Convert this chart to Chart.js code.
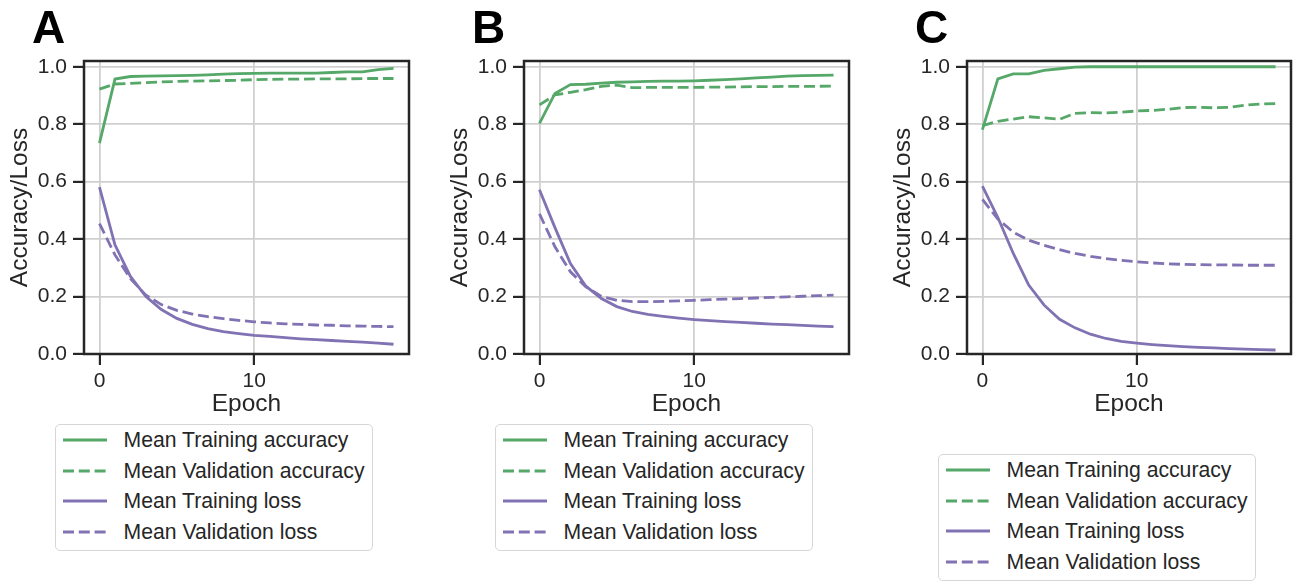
<!DOCTYPE html>
<html>
<head>
<meta charset="utf-8">
<script src="https://cdn.jsdelivr.net/npm/chart.js@4.4.1/dist/chart.umd.min.js"></script>
<style>
  body { margin: 0; background: #fff; width: 1294px; height: 583px; position: relative; overflow: hidden;
         font-family: "Liberation Sans", Arial, sans-serif; color: #262626; }
  canvas { position: absolute; top: 0; }
  .letter { position: absolute; top: 4px; font-weight: bold; font-size: 46px; line-height: 1; color: #000; }
  .legend { position: absolute; width: 318px; height: 127px; box-sizing: border-box;
            border: 1.5px solid #d6d6d6; border-radius: 5px; background: #fff; }
  .row { display: flex; align-items: center; height: 30.5px; font-size: 21.2px; white-space: nowrap; }
  .row svg { margin-left: 6.5px; margin-right: 17px; flex: none; }
</style>
</head>
<body>
<canvas id="chartA" width="430" height="420" style="left:0px"></canvas>
<canvas id="chartB" width="430" height="420" style="left:440px"></canvas>
<canvas id="chartC" width="411" height="420" style="left:883px"></canvas>
<div class="letter" style="left:32px">A</div>
<div class="letter" style="left:472px">B</div>
<div class="letter" style="left:915px">C</div>
<div class="legend" id="legA" style="left:55px; top:424px"></div>
<div class="legend" id="legB" style="left:495px; top:424px"></div>
<div class="legend" id="legC" style="left:938px; top:454px"></div>
<script>
// epochs and tick positions
const epochs = [0, 1, 2, 3, 4, 5, 6, 7, 8, 9, 10, 11, 12, 13, 14, 15, 16, 17, 18, 19];
const xTicks = [0, 10];
const yTicks = [0, 0.2, 0.4, 0.6, 0.8, 1.0];
const seriesNames = ['Mean Training accuracy', 'Mean Validation accuracy', 'Mean Training loss', 'Mean Validation loss'];

// panel A
const trainAccA = [0.734, 0.957, 0.966, 0.967, 0.968, 0.969, 0.970, 0.972, 0.974, 0.976, 0.977, 0.978, 0.978, 0.978, 0.978, 0.980, 0.982, 0.982, 0.990, 0.994];
const valAccA = [0.922, 0.940, 0.942, 0.945, 0.947, 0.949, 0.950, 0.951, 0.952, 0.953, 0.955, 0.956, 0.957, 0.957, 0.958, 0.958, 0.958, 0.959, 0.959, 0.959];
const trainLossA = [0.581, 0.380, 0.270, 0.200, 0.155, 0.124, 0.103, 0.088, 0.078, 0.071, 0.065, 0.061, 0.057, 0.053, 0.050, 0.047, 0.044, 0.041, 0.038, 0.034];
const valLossA = [0.454, 0.345, 0.262, 0.205, 0.172, 0.152, 0.139, 0.130, 0.123, 0.117, 0.112, 0.108, 0.105, 0.103, 0.101, 0.100, 0.098, 0.097, 0.096, 0.095];

// panel B
const trainAccB = [0.803, 0.907, 0.938, 0.939, 0.943, 0.946, 0.947, 0.949, 0.950, 0.950, 0.951, 0.953, 0.955, 0.958, 0.961, 0.964, 0.967, 0.969, 0.970, 0.971];
const valAccB = [0.867, 0.902, 0.911, 0.920, 0.932, 0.936, 0.927, 0.928, 0.928, 0.928, 0.928, 0.929, 0.929, 0.930, 0.931, 0.931, 0.932, 0.932, 0.932, 0.933];
const trainLossB = [0.572, 0.440, 0.315, 0.236, 0.193, 0.165, 0.148, 0.138, 0.131, 0.125, 0.120, 0.116, 0.113, 0.110, 0.107, 0.104, 0.102, 0.100, 0.097, 0.095];
const valLossB = [0.488, 0.373, 0.286, 0.234, 0.200, 0.187, 0.182, 0.182, 0.183, 0.185, 0.187, 0.189, 0.191, 0.193, 0.195, 0.197, 0.199, 0.201, 0.203, 0.205];

// panel C
const trainAccC = [0.781, 0.958, 0.975, 0.975, 0.987, 0.993, 0.999, 1.0, 1.0, 1.0, 1.0, 1.0, 1.0, 1.0, 1.0, 1.0, 1.0, 1.0, 1.0, 1.0];
const valAccC = [0.795, 0.810, 0.818, 0.826, 0.822, 0.817, 0.838, 0.840, 0.839, 0.842, 0.846, 0.848, 0.852, 0.858, 0.859, 0.857, 0.859, 0.866, 0.870, 0.872];
const trainLossC = [0.584, 0.475, 0.350, 0.240, 0.170, 0.121, 0.091, 0.069, 0.054, 0.044, 0.038, 0.033, 0.029, 0.026, 0.023, 0.021, 0.019, 0.017, 0.015, 0.014];
const valLossC = [0.538, 0.470, 0.424, 0.396, 0.378, 0.363, 0.350, 0.340, 0.332, 0.326, 0.321, 0.317, 0.314, 0.312, 0.311, 0.310, 0.310, 0.309, 0.309, 0.309];

const GREEN = '#55a868';
const PURPLE = '#8172b3';
const INK = '#262626';
const FONT = '"Liberation Sans", Arial, sans-serif';
const DASH = [11, 4.8];
const styles = [
  { color: GREEN, dash: [] },
  { color: GREEN, dash: DASH },
  { color: PURPLE, dash: [] },
  { color: PURPLE, dash: DASH }
];

// frame round the plot area, drawn on top like matplotlib spines
const framePlugin = {
  id: 'frame',
  afterDraw(chart) {
    const { ctx, chartArea: a } = chart;
    ctx.save();
    ctx.strokeStyle = INK;
    ctx.lineWidth = 2.5;
    ctx.strokeRect(a.left, a.top, a.right - a.left, a.bottom - a.top);
    ctx.restore();
  }
};

function makeChart(id, series, padRight) {
  const datasets = series.map((vals, i) => ({
    label: seriesNames[i],
    data: epochs.map((e, j) => ({ x: e, y: vals[j] })),
    borderColor: styles[i].color,
    borderDash: styles[i].dash,
    borderWidth: 2.8,
    pointRadius: 0,
    tension: 0,
    fill: false
  }));
  return new Chart(document.getElementById(id), {
    type: 'line',
    data: { datasets },
    plugins: [framePlugin],
    options: {
      responsive: false,
      animation: false,
      layout: { padding: { left: 0, top: 61, right: padRight, bottom: 0 } },
      plugins: { legend: { display: false }, tooltip: { enabled: false } },
      scales: {
        x: {
          type: 'linear',
          min: -1, max: 20,
          afterBuildTicks: s => { s.ticks = xTicks.map(v => ({ value: v })); },
          afterFit: s => { s.height = 66; },
          grid: { color: '#d0d0d0', lineWidth: 1.8, tickColor: INK, tickLength: 11, tickWidth: 2.2 },
          border: { display: false },
          ticks: { color: INK, font: { family: FONT, size: 21 }, padding: 4, maxRotation: 0 },
          title: { display: true, text: 'Epoch', color: INK, font: { family: FONT, size: 24.5 }, padding: { top: 0, bottom: 1.3 } }
        },
        y: {
          min: 0, max: 1.02,
          afterBuildTicks: s => { s.ticks = yTicks.map(v => ({ value: v })); },
          afterFit: s => { s.width = 84; },
          grid: { color: '#d0d0d0', lineWidth: 1.8, tickColor: INK, tickLength: 11, tickWidth: 2.2 },
          border: { display: false },
          ticks: { color: INK, font: { family: FONT, size: 21 }, padding: 6, callback: v => v.toFixed(1) },
          title: { display: true, text: 'Accuracy/Loss', color: INK, font: { family: FONT, size: 24.5 }, padding: { top: 6, bottom: 0 } }
        }
      }
    }
  });
}

function makeLegend(id) {
  const box = document.getElementById(id);
  styles.forEach((s, i) => {
    const row = document.createElement('div');
    row.className = 'row';
    row.innerHTML = `<svg width="44" height="6"><line x1="0" y1="3" x2="44" y2="3" stroke="${s.color}" stroke-width="2.8"
      ${s.dash.length ? 'stroke-dasharray="' + s.dash.join(' ') + '"' : ''}/></svg><span>${seriesNames[i]}</span>`;
    box.appendChild(row);
  });
}

makeChart('chartA', [trainAccA, valAccA, trainLossA, valLossA], 21);
makeChart('chartB', [trainAccB, valAccB, trainLossB, valLossB], 21);
makeChart('chartC', [trainAccC, valAccC, trainLossC, valLossC], 3);
makeLegend('legA');
makeLegend('legB');
makeLegend('legC');
</script>
</body>
</html>
